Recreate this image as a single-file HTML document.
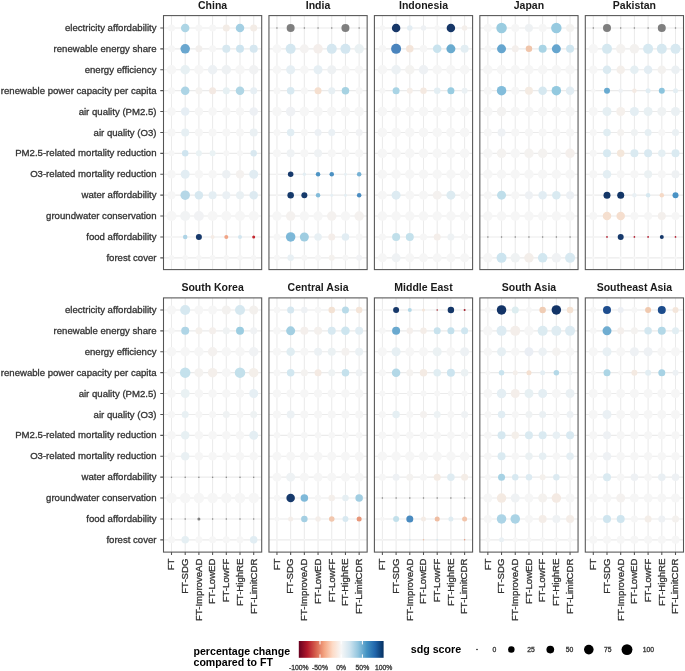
<!DOCTYPE html><html><head><meta charset="utf-8"><style>html,body{margin:0;padding:0;background:#fff;width:685px;height:671px;overflow:hidden}svg{display:block;will-change:transform}text{font-family:"Liberation Sans",sans-serif}.t{stroke:#333;stroke-width:0.3px}</style></head><body>
<svg width="685" height="671" viewBox="0 0 685 671">
<rect width="685" height="671" fill="#fff"/>
<g>
<path d="M171.5 15.6V269.6M185.2 15.6V269.6M198.9 15.6V269.6M212.6 15.6V269.6M226.3 15.6V269.6M240 15.6V269.6M253.7 15.6V269.6M163.5 27.95H261.7M163.5 48.85H261.7M163.5 69.75H261.7M163.5 90.65H261.7M163.5 111.55H261.7M163.5 132.45H261.7M163.5 153.35H261.7M163.5 174.25H261.7M163.5 195.15H261.7M163.5 216.05H261.7M163.5 236.95H261.7M163.5 257.85H261.7" stroke="#EBEBEB" stroke-width="1.07" fill="none"/>
<circle cx="171.5" cy="27.95" r="3.5" fill="#F6F6F6"/>
<circle cx="185.2" cy="27.95" r="4.25" fill="#ADD5E5"/>
<circle cx="198.9" cy="27.95" r="3.5" fill="#F6F6F6"/>
<circle cx="212.6" cy="27.95" r="3.5" fill="#F6F6F6"/>
<circle cx="226.3" cy="27.95" r="3.5" fill="#F3ECE6"/>
<circle cx="240" cy="27.95" r="4.25" fill="#A3CFE3"/>
<circle cx="253.7" cy="27.95" r="3.5" fill="#F3ECE6"/>
<circle cx="171.5" cy="48.85" r="3.5" fill="#F6F6F6"/>
<circle cx="185.2" cy="48.85" r="4.75" fill="#6AA7CF"/>
<circle cx="198.9" cy="48.85" r="3.5" fill="#F2EFED"/>
<circle cx="212.6" cy="48.85" r="3.5" fill="#F6F6F6"/>
<circle cx="226.3" cy="48.85" r="4" fill="#D7E8F0"/>
<circle cx="240" cy="48.85" r="4" fill="#CDE4EF"/>
<circle cx="253.7" cy="48.85" r="4" fill="#D6E7F0"/>
<circle cx="171.5" cy="69.75" r="4.75" fill="#F6F6F6"/>
<circle cx="185.2" cy="69.75" r="4.75" fill="#E7F0F3"/>
<circle cx="198.9" cy="69.75" r="4.75" fill="#F6F6F6"/>
<circle cx="212.6" cy="69.75" r="4.75" fill="#EDF1F4"/>
<circle cx="226.3" cy="69.75" r="4.75" fill="#EEF1F3"/>
<circle cx="240" cy="69.75" r="4.75" fill="#F6F6F6"/>
<circle cx="253.7" cy="69.75" r="4.75" fill="#F1F2F3"/>
<circle cx="171.5" cy="90.65" r="3.5" fill="#F6F6F6"/>
<circle cx="185.2" cy="90.65" r="4.25" fill="#ACD4E5"/>
<circle cx="198.9" cy="90.65" r="3.5" fill="#F4F2F0"/>
<circle cx="212.6" cy="90.65" r="3.5" fill="#F3E9E3"/>
<circle cx="226.3" cy="90.65" r="3.5" fill="#E6F0F3"/>
<circle cx="240" cy="90.65" r="4.25" fill="#B0D6E5"/>
<circle cx="253.7" cy="90.65" r="3.5" fill="#E7EFF4"/>
<circle cx="171.5" cy="111.55" r="4.25" fill="#F6F6F6"/>
<circle cx="185.2" cy="111.55" r="4.25" fill="#E6EEF4"/>
<circle cx="198.9" cy="111.55" r="4.25" fill="#F6F6F6"/>
<circle cx="212.6" cy="111.55" r="4.25" fill="#F6F6F6"/>
<circle cx="226.3" cy="111.55" r="4.25" fill="#F6F6F6"/>
<circle cx="240" cy="111.55" r="4.25" fill="#F6F6F6"/>
<circle cx="253.7" cy="111.55" r="4.25" fill="#EDF0F4"/>
<circle cx="171.5" cy="132.45" r="4" fill="#F6F6F6"/>
<circle cx="185.2" cy="132.45" r="4" fill="#E6EFF3"/>
<circle cx="198.9" cy="132.45" r="4" fill="#F6F6F6"/>
<circle cx="212.6" cy="132.45" r="4" fill="#F6F6F6"/>
<circle cx="226.3" cy="132.45" r="4" fill="#F6F6F6"/>
<circle cx="240" cy="132.45" r="4" fill="#F6F6F6"/>
<circle cx="253.7" cy="132.45" r="4" fill="#EAF0F3"/>
<circle cx="171.5" cy="153.35" r="3" fill="#F6F6F6"/>
<circle cx="185.2" cy="153.35" r="3.25" fill="#CFE4EF"/>
<circle cx="198.9" cy="153.35" r="3" fill="#EAF2F4"/>
<circle cx="212.6" cy="153.35" r="3" fill="#EAF2F4"/>
<circle cx="226.3" cy="153.35" r="3" fill="#F6F6F6"/>
<circle cx="240" cy="153.35" r="3" fill="#F6F6F6"/>
<circle cx="253.7" cy="153.35" r="3.25" fill="#D9E8F0"/>
<circle cx="171.5" cy="174.25" r="4.25" fill="#F6F6F6"/>
<circle cx="185.2" cy="174.25" r="4.5" fill="#E2EDF3"/>
<circle cx="198.9" cy="174.25" r="4.25" fill="#F6F6F6"/>
<circle cx="212.6" cy="174.25" r="4.25" fill="#F6F6F6"/>
<circle cx="226.3" cy="174.25" r="4.25" fill="#ECF0F3"/>
<circle cx="240" cy="174.25" r="4.25" fill="#F4F1EF"/>
<circle cx="253.7" cy="174.25" r="4.5" fill="#E1ECF2"/>
<circle cx="171.5" cy="195.15" r="4" fill="#F6F6F6"/>
<circle cx="185.2" cy="195.15" r="4.75" fill="#B5D7E7"/>
<circle cx="198.9" cy="195.15" r="4.25" fill="#D7E8F0"/>
<circle cx="212.6" cy="195.15" r="4" fill="#E4EEF3"/>
<circle cx="226.3" cy="195.15" r="4" fill="#EAF0F4"/>
<circle cx="240" cy="195.15" r="4" fill="#E9F0F3"/>
<circle cx="253.7" cy="195.15" r="4.25" fill="#DDEAF1"/>
<circle cx="171.5" cy="216.05" r="5" fill="#F6F6F6"/>
<circle cx="185.2" cy="216.05" r="5" fill="#F1F3F4"/>
<circle cx="198.9" cy="216.05" r="5" fill="#F1F2F4"/>
<circle cx="212.6" cy="216.05" r="5" fill="#F6F6F6"/>
<circle cx="226.3" cy="216.05" r="5" fill="#F6F6F6"/>
<circle cx="240" cy="216.05" r="5" fill="#F6F6F6"/>
<circle cx="253.7" cy="216.05" r="5" fill="#F6F6F6"/>
<circle cx="171.5" cy="236.95" r="1" fill="#F6F6F6"/>
<circle cx="185.2" cy="236.95" r="2.25" fill="#AED4E6"/>
<circle cx="198.9" cy="236.95" r="3" fill="#17396B"/>
<circle cx="212.6" cy="236.95" r="2" fill="#F5ECE6"/>
<circle cx="226.3" cy="236.95" r="2" fill="#F0A486"/>
<circle cx="240" cy="236.95" r="2" fill="#D3E6EF"/>
<circle cx="253.7" cy="236.95" r="1.5" fill="#C4262F"/>
<circle cx="171.5" cy="257.85" r="2.75" fill="#F6F6F6"/>
<circle cx="185.2" cy="257.85" r="2.75" fill="#F6F6F6"/>
<circle cx="198.9" cy="257.85" r="2.75" fill="#F6F6F6"/>
<circle cx="212.6" cy="257.85" r="2.75" fill="#F6F6F6"/>
<circle cx="226.3" cy="257.85" r="2.75" fill="#F6F6F6"/>
<circle cx="240" cy="257.85" r="2.75" fill="#F6F6F6"/>
<circle cx="253.7" cy="257.85" r="2.75" fill="#F6F6F6"/>
<rect x="163.5" y="15.6" width="98.2" height="254" fill="none" stroke="#555555" stroke-width="1.07"/>
<text x="212.6" y="8.7" font-size="10.5" font-weight="bold" fill="#1A1A1A" text-anchor="middle">China</text>
</g>
<g>
<path d="M276.95 15.6V269.6M290.65 15.6V269.6M304.35 15.6V269.6M318.05 15.6V269.6M331.75 15.6V269.6M345.45 15.6V269.6M359.15 15.6V269.6M268.95 27.95H367.15M268.95 48.85H367.15M268.95 69.75H367.15M268.95 90.65H367.15M268.95 111.55H367.15M268.95 132.45H367.15M268.95 153.35H367.15M268.95 174.25H367.15M268.95 195.15H367.15M268.95 216.05H367.15M268.95 236.95H367.15M268.95 257.85H367.15" stroke="#EBEBEB" stroke-width="1.07" fill="none"/>
<circle cx="276.95" cy="27.95" r="0.75" fill="#7F7F7F"/>
<circle cx="290.65" cy="27.95" r="4" fill="#7F7F7F"/>
<circle cx="304.35" cy="27.95" r="0.75" fill="#7F7F7F"/>
<circle cx="318.05" cy="27.95" r="0.75" fill="#7F7F7F"/>
<circle cx="331.75" cy="27.95" r="0.75" fill="#7F7F7F"/>
<circle cx="345.45" cy="27.95" r="4" fill="#7F7F7F"/>
<circle cx="359.15" cy="27.95" r="0.75" fill="#7F7F7F"/>
<circle cx="276.95" cy="48.85" r="4.5" fill="#F6F6F6"/>
<circle cx="290.65" cy="48.85" r="5" fill="#D4E7F0"/>
<circle cx="304.35" cy="48.85" r="4.5" fill="#F4F2F1"/>
<circle cx="318.05" cy="48.85" r="4.75" fill="#F4EEEB"/>
<circle cx="331.75" cy="48.85" r="5" fill="#D5E7F0"/>
<circle cx="345.45" cy="48.85" r="5" fill="#D3E6F0"/>
<circle cx="359.15" cy="48.85" r="4.75" fill="#EAF1F3"/>
<circle cx="276.95" cy="69.75" r="4.25" fill="#F6F6F6"/>
<circle cx="290.65" cy="69.75" r="4.5" fill="#E6EFF4"/>
<circle cx="304.35" cy="69.75" r="4.25" fill="#F6F6F6"/>
<circle cx="318.05" cy="69.75" r="4.5" fill="#E6EFF4"/>
<circle cx="331.75" cy="69.75" r="4.5" fill="#EEF1F3"/>
<circle cx="345.45" cy="69.75" r="4.25" fill="#F6F6F6"/>
<circle cx="359.15" cy="69.75" r="4.25" fill="#F6F6F6"/>
<circle cx="276.95" cy="90.65" r="3.5" fill="#F6F6F6"/>
<circle cx="290.65" cy="90.65" r="3.75" fill="#D8E9F1"/>
<circle cx="304.35" cy="90.65" r="3.5" fill="#F6F6F6"/>
<circle cx="318.05" cy="90.65" r="3.5" fill="#F5DFCF"/>
<circle cx="331.75" cy="90.65" r="3.5" fill="#E7EFF3"/>
<circle cx="345.45" cy="90.65" r="3.75" fill="#A6D2E2"/>
<circle cx="359.15" cy="90.65" r="3.5" fill="#F6F6F6"/>
<circle cx="276.95" cy="111.55" r="4.75" fill="#F6F6F6"/>
<circle cx="290.65" cy="111.55" r="4.75" fill="#EFF1F4"/>
<circle cx="304.35" cy="111.55" r="4.75" fill="#F6F6F6"/>
<circle cx="318.05" cy="111.55" r="4.75" fill="#F6F6F6"/>
<circle cx="331.75" cy="111.55" r="4.75" fill="#F6F6F6"/>
<circle cx="345.45" cy="111.55" r="4.75" fill="#F6F6F6"/>
<circle cx="359.15" cy="111.55" r="4.75" fill="#F6F6F6"/>
<circle cx="276.95" cy="132.45" r="3.5" fill="#F6F6F6"/>
<circle cx="290.65" cy="132.45" r="3.75" fill="#E1EDF3"/>
<circle cx="304.35" cy="132.45" r="3.5" fill="#F6F6F6"/>
<circle cx="318.05" cy="132.45" r="3.5" fill="#ECF0F4"/>
<circle cx="331.75" cy="132.45" r="3.5" fill="#EAF0F4"/>
<circle cx="345.45" cy="132.45" r="3.5" fill="#F6F6F6"/>
<circle cx="359.15" cy="132.45" r="3.5" fill="#F1F2F4"/>
<circle cx="276.95" cy="153.35" r="4" fill="#F6F6F6"/>
<circle cx="290.65" cy="153.35" r="4" fill="#EFF2F4"/>
<circle cx="304.35" cy="153.35" r="4" fill="#F6F6F6"/>
<circle cx="318.05" cy="153.35" r="4" fill="#EFF2F4"/>
<circle cx="331.75" cy="153.35" r="4" fill="#F6F6F6"/>
<circle cx="345.45" cy="153.35" r="4" fill="#F6F6F6"/>
<circle cx="359.15" cy="153.35" r="4" fill="#F6F6F6"/>
<circle cx="276.95" cy="174.25" r="1" fill="#F6F6F6"/>
<circle cx="290.65" cy="174.25" r="2.75" fill="#173A6C"/>
<circle cx="304.35" cy="174.25" r="1.75" fill="#E3EEF3"/>
<circle cx="318.05" cy="174.25" r="2.25" fill="#4E94C4"/>
<circle cx="331.75" cy="174.25" r="2.25" fill="#4B90C2"/>
<circle cx="345.45" cy="174.25" r="1.5" fill="#E7F0F4"/>
<circle cx="359.15" cy="174.25" r="2.25" fill="#76B1D4"/>
<circle cx="276.95" cy="195.15" r="1" fill="#F6F6F6"/>
<circle cx="290.65" cy="195.15" r="3.25" fill="#163A6B"/>
<circle cx="304.35" cy="195.15" r="3" fill="#163A6B"/>
<circle cx="318.05" cy="195.15" r="2.25" fill="#83BCDA"/>
<circle cx="331.75" cy="195.15" r="1.5" fill="#E5EFF4"/>
<circle cx="345.45" cy="195.15" r="1.5" fill="#E4EEF3"/>
<circle cx="359.15" cy="195.15" r="2.25" fill="#4A8CC1"/>
<circle cx="276.95" cy="216.05" r="4.75" fill="#F6F6F6"/>
<circle cx="290.65" cy="216.05" r="4.75" fill="#F4F1EF"/>
<circle cx="304.35" cy="216.05" r="4.75" fill="#F6F6F6"/>
<circle cx="318.05" cy="216.05" r="4.75" fill="#F6F6F6"/>
<circle cx="331.75" cy="216.05" r="4.75" fill="#F4F1EF"/>
<circle cx="345.45" cy="216.05" r="4.75" fill="#F6F6F6"/>
<circle cx="359.15" cy="216.05" r="4.75" fill="#F4F1EF"/>
<circle cx="276.95" cy="236.95" r="3.5" fill="#F6F6F6"/>
<circle cx="290.65" cy="236.95" r="4.75" fill="#7DB8D8"/>
<circle cx="304.35" cy="236.95" r="4.5" fill="#9FCDE1"/>
<circle cx="318.05" cy="236.95" r="3.75" fill="#E8F0F4"/>
<circle cx="331.75" cy="236.95" r="3.5" fill="#F4EDE9"/>
<circle cx="345.45" cy="236.95" r="3.75" fill="#E2EDF3"/>
<circle cx="359.15" cy="236.95" r="3.5" fill="#F6F6F6"/>
<circle cx="276.95" cy="257.85" r="3" fill="#F6F6F6"/>
<circle cx="290.65" cy="257.85" r="3.25" fill="#E8F0F4"/>
<circle cx="304.35" cy="257.85" r="3" fill="#F6F6F6"/>
<circle cx="318.05" cy="257.85" r="3" fill="#F6F6F6"/>
<circle cx="331.75" cy="257.85" r="3" fill="#F4F1EE"/>
<circle cx="345.45" cy="257.85" r="3" fill="#F6F6F6"/>
<circle cx="359.15" cy="257.85" r="3" fill="#F1F2F4"/>
<rect x="268.95" y="15.6" width="98.2" height="254" fill="none" stroke="#555555" stroke-width="1.07"/>
<text x="318.05" y="8.7" font-size="10.5" font-weight="bold" fill="#1A1A1A" text-anchor="middle">India</text>
</g>
<g>
<path d="M382.4 15.6V269.6M396.1 15.6V269.6M409.8 15.6V269.6M423.5 15.6V269.6M437.2 15.6V269.6M450.9 15.6V269.6M464.6 15.6V269.6M374.4 27.95H472.6M374.4 48.85H472.6M374.4 69.75H472.6M374.4 90.65H472.6M374.4 111.55H472.6M374.4 132.45H472.6M374.4 153.35H472.6M374.4 174.25H472.6M374.4 195.15H472.6M374.4 216.05H472.6M374.4 236.95H472.6M374.4 257.85H472.6" stroke="#EBEBEB" stroke-width="1.07" fill="none"/>
<circle cx="382.4" cy="27.95" r="2.75" fill="#F6F6F6"/>
<circle cx="396.1" cy="27.95" r="4.25" fill="#173768"/>
<circle cx="409.8" cy="27.95" r="2.75" fill="#E3EDF3"/>
<circle cx="423.5" cy="27.95" r="2.75" fill="#EEF1F4"/>
<circle cx="437.2" cy="27.95" r="2.75" fill="#F6F6F6"/>
<circle cx="450.9" cy="27.95" r="4.25" fill="#163768"/>
<circle cx="464.6" cy="27.95" r="2.75" fill="#F4EFEB"/>
<circle cx="382.4" cy="48.85" r="3.75" fill="#F6F6F6"/>
<circle cx="396.1" cy="48.85" r="5" fill="#4A84BD"/>
<circle cx="409.8" cy="48.85" r="3.75" fill="#F4E5DA"/>
<circle cx="423.5" cy="48.85" r="3.75" fill="#F6F6F6"/>
<circle cx="437.2" cy="48.85" r="4.25" fill="#C9E3EE"/>
<circle cx="450.9" cy="48.85" r="4.5" fill="#6AABCF"/>
<circle cx="464.6" cy="48.85" r="4" fill="#E3EEF3"/>
<circle cx="382.4" cy="69.75" r="4.75" fill="#F6F6F6"/>
<circle cx="396.1" cy="69.75" r="4.75" fill="#ECF1F4"/>
<circle cx="409.8" cy="69.75" r="4.75" fill="#F4F3F1"/>
<circle cx="423.5" cy="69.75" r="4.75" fill="#EEF1F4"/>
<circle cx="437.2" cy="69.75" r="4.75" fill="#F6F6F6"/>
<circle cx="450.9" cy="69.75" r="4.75" fill="#F6F6F6"/>
<circle cx="464.6" cy="69.75" r="4.75" fill="#F6F6F6"/>
<circle cx="382.4" cy="90.65" r="3" fill="#F6F6F6"/>
<circle cx="396.1" cy="90.65" r="3.5" fill="#A9D4E5"/>
<circle cx="409.8" cy="90.65" r="3" fill="#F5EEE9"/>
<circle cx="423.5" cy="90.65" r="3.25" fill="#F4E9E1"/>
<circle cx="437.2" cy="90.65" r="3.25" fill="#E3EEF3"/>
<circle cx="450.9" cy="90.65" r="3.5" fill="#98CCE1"/>
<circle cx="464.6" cy="90.65" r="3" fill="#EBF1F4"/>
<circle cx="382.4" cy="111.55" r="4.75" fill="#F6F6F6"/>
<circle cx="396.1" cy="111.55" r="4.75" fill="#F6F6F6"/>
<circle cx="409.8" cy="111.55" r="4.75" fill="#F6F6F6"/>
<circle cx="423.5" cy="111.55" r="4.75" fill="#F6F6F6"/>
<circle cx="437.2" cy="111.55" r="4.75" fill="#F6F6F6"/>
<circle cx="450.9" cy="111.55" r="4.75" fill="#F6F6F6"/>
<circle cx="464.6" cy="111.55" r="4.75" fill="#F6F6F6"/>
<circle cx="382.4" cy="132.45" r="4.75" fill="#F6F6F6"/>
<circle cx="396.1" cy="132.45" r="4.75" fill="#F6F6F6"/>
<circle cx="409.8" cy="132.45" r="4.75" fill="#F6F6F6"/>
<circle cx="423.5" cy="132.45" r="4.75" fill="#F6F6F6"/>
<circle cx="437.2" cy="132.45" r="4.75" fill="#F6F6F6"/>
<circle cx="450.9" cy="132.45" r="4.75" fill="#F6F6F6"/>
<circle cx="464.6" cy="132.45" r="4.75" fill="#F6F6F6"/>
<circle cx="382.4" cy="153.35" r="4.75" fill="#F6F6F6"/>
<circle cx="396.1" cy="153.35" r="4.75" fill="#F6F6F6"/>
<circle cx="409.8" cy="153.35" r="4.75" fill="#F6F6F6"/>
<circle cx="423.5" cy="153.35" r="4.75" fill="#F6F6F6"/>
<circle cx="437.2" cy="153.35" r="4.75" fill="#F6F6F6"/>
<circle cx="450.9" cy="153.35" r="4.75" fill="#F6F6F6"/>
<circle cx="464.6" cy="153.35" r="4.75" fill="#F6F6F6"/>
<circle cx="382.4" cy="174.25" r="4.75" fill="#F6F6F6"/>
<circle cx="396.1" cy="174.25" r="4.75" fill="#F6F6F6"/>
<circle cx="409.8" cy="174.25" r="4.75" fill="#F6F6F6"/>
<circle cx="423.5" cy="174.25" r="4.75" fill="#F6F6F6"/>
<circle cx="437.2" cy="174.25" r="4.75" fill="#F6F6F6"/>
<circle cx="450.9" cy="174.25" r="4.75" fill="#F6F6F6"/>
<circle cx="464.6" cy="174.25" r="4.75" fill="#F6F6F6"/>
<circle cx="382.4" cy="195.15" r="4.5" fill="#F6F6F6"/>
<circle cx="396.1" cy="195.15" r="4.5" fill="#DDEBF2"/>
<circle cx="409.8" cy="195.15" r="4.5" fill="#F6F6F6"/>
<circle cx="423.5" cy="195.15" r="4.5" fill="#F6F6F6"/>
<circle cx="437.2" cy="195.15" r="4.5" fill="#F4F1EF"/>
<circle cx="450.9" cy="195.15" r="4.5" fill="#DDEBF1"/>
<circle cx="464.6" cy="195.15" r="4.5" fill="#F6F6F6"/>
<circle cx="382.4" cy="216.05" r="4.75" fill="#F6F6F6"/>
<circle cx="396.1" cy="216.05" r="4.75" fill="#F6F6F6"/>
<circle cx="409.8" cy="216.05" r="4.75" fill="#F6F6F6"/>
<circle cx="423.5" cy="216.05" r="4.75" fill="#F6F6F6"/>
<circle cx="437.2" cy="216.05" r="4.75" fill="#F6F6F6"/>
<circle cx="450.9" cy="216.05" r="4.75" fill="#F6F6F6"/>
<circle cx="464.6" cy="216.05" r="4.75" fill="#F6F6F6"/>
<circle cx="382.4" cy="236.95" r="3.5" fill="#F6F6F6"/>
<circle cx="396.1" cy="236.95" r="4" fill="#C0DFEA"/>
<circle cx="409.8" cy="236.95" r="4" fill="#C4E1EC"/>
<circle cx="423.5" cy="236.95" r="3.5" fill="#F6F6F6"/>
<circle cx="437.2" cy="236.95" r="3.5" fill="#F4EEEA"/>
<circle cx="450.9" cy="236.95" r="3.5" fill="#EEF2F4"/>
<circle cx="464.6" cy="236.95" r="3.5" fill="#F6F6F6"/>
<circle cx="382.4" cy="257.85" r="4.5" fill="#F6F6F6"/>
<circle cx="396.1" cy="257.85" r="4.5" fill="#EFF2F4"/>
<circle cx="409.8" cy="257.85" r="4.5" fill="#F6F6F6"/>
<circle cx="423.5" cy="257.85" r="4.5" fill="#F6F6F6"/>
<circle cx="437.2" cy="257.85" r="4.5" fill="#F6F6F6"/>
<circle cx="450.9" cy="257.85" r="4.5" fill="#F6F6F6"/>
<circle cx="464.6" cy="257.85" r="4.5" fill="#F6F6F6"/>
<rect x="374.4" y="15.6" width="98.2" height="254" fill="none" stroke="#555555" stroke-width="1.07"/>
<text x="423.5" y="8.7" font-size="10.5" font-weight="bold" fill="#1A1A1A" text-anchor="middle">Indonesia</text>
</g>
<g>
<path d="M487.85 15.6V269.6M501.55 15.6V269.6M515.25 15.6V269.6M528.95 15.6V269.6M542.65 15.6V269.6M556.35 15.6V269.6M570.05 15.6V269.6M479.85 27.95H578.05M479.85 48.85H578.05M479.85 69.75H578.05M479.85 90.65H578.05M479.85 111.55H578.05M479.85 132.45H578.05M479.85 153.35H578.05M479.85 174.25H578.05M479.85 195.15H578.05M479.85 216.05H578.05M479.85 236.95H578.05M479.85 257.85H578.05" stroke="#EBEBEB" stroke-width="1.07" fill="none"/>
<circle cx="487.85" cy="27.95" r="4" fill="#F6F6F6"/>
<circle cx="501.55" cy="27.95" r="5.25" fill="#9ACCE0"/>
<circle cx="515.25" cy="27.95" r="4" fill="#F6F6F6"/>
<circle cx="528.95" cy="27.95" r="4" fill="#EEF1F3"/>
<circle cx="542.65" cy="27.95" r="4" fill="#F6F6F6"/>
<circle cx="556.35" cy="27.95" r="5.25" fill="#97CAE0"/>
<circle cx="570.05" cy="27.95" r="4" fill="#F3F2F0"/>
<circle cx="487.85" cy="48.85" r="3.5" fill="#F6F6F6"/>
<circle cx="501.55" cy="48.85" r="4.5" fill="#66A6CF"/>
<circle cx="515.25" cy="48.85" r="3.5" fill="#F4EFEC"/>
<circle cx="528.95" cy="48.85" r="3.25" fill="#F0C5AB"/>
<circle cx="542.65" cy="48.85" r="4" fill="#A9D4E5"/>
<circle cx="556.35" cy="48.85" r="4.5" fill="#65A5CE"/>
<circle cx="570.05" cy="48.85" r="4" fill="#D0E6F0"/>
<circle cx="487.85" cy="69.75" r="4.75" fill="#F6F6F6"/>
<circle cx="501.55" cy="69.75" r="4.75" fill="#F6F6F6"/>
<circle cx="515.25" cy="69.75" r="4.75" fill="#F6F6F6"/>
<circle cx="528.95" cy="69.75" r="4.75" fill="#F6F6F6"/>
<circle cx="542.65" cy="69.75" r="4.75" fill="#F6F6F6"/>
<circle cx="556.35" cy="69.75" r="4.75" fill="#F6F6F6"/>
<circle cx="570.05" cy="69.75" r="4.75" fill="#F6F6F6"/>
<circle cx="487.85" cy="90.65" r="4" fill="#F6F6F6"/>
<circle cx="501.55" cy="90.65" r="4.75" fill="#83BDDB"/>
<circle cx="515.25" cy="90.65" r="4" fill="#F6F6F6"/>
<circle cx="528.95" cy="90.65" r="4" fill="#F4EBE3"/>
<circle cx="542.65" cy="90.65" r="4.25" fill="#D6E8F0"/>
<circle cx="556.35" cy="90.65" r="4.75" fill="#93C9DF"/>
<circle cx="570.05" cy="90.65" r="4.25" fill="#E2EDF3"/>
<circle cx="487.85" cy="111.55" r="4.75" fill="#F6F6F6"/>
<circle cx="501.55" cy="111.55" r="4.75" fill="#F3F2F1"/>
<circle cx="515.25" cy="111.55" r="4.75" fill="#F6F6F6"/>
<circle cx="528.95" cy="111.55" r="4.75" fill="#F6F6F6"/>
<circle cx="542.65" cy="111.55" r="4.75" fill="#F6F6F6"/>
<circle cx="556.35" cy="111.55" r="4.75" fill="#F6F6F6"/>
<circle cx="570.05" cy="111.55" r="4.75" fill="#F6F6F6"/>
<circle cx="487.85" cy="132.45" r="4" fill="#F6F6F6"/>
<circle cx="501.55" cy="132.45" r="4" fill="#EEF1F4"/>
<circle cx="515.25" cy="132.45" r="4" fill="#F6F6F6"/>
<circle cx="528.95" cy="132.45" r="4" fill="#F6F6F6"/>
<circle cx="542.65" cy="132.45" r="4" fill="#F6F6F6"/>
<circle cx="556.35" cy="132.45" r="4" fill="#F6F6F6"/>
<circle cx="570.05" cy="132.45" r="4" fill="#F6F6F6"/>
<circle cx="487.85" cy="153.35" r="4.75" fill="#F6F6F6"/>
<circle cx="501.55" cy="153.35" r="4.75" fill="#F4F2F0"/>
<circle cx="515.25" cy="153.35" r="4.75" fill="#F6F6F6"/>
<circle cx="528.95" cy="153.35" r="4.75" fill="#F4F2F0"/>
<circle cx="542.65" cy="153.35" r="4.75" fill="#F4F2F0"/>
<circle cx="556.35" cy="153.35" r="4.75" fill="#F6F6F6"/>
<circle cx="570.05" cy="153.35" r="4.75" fill="#F4EFEC"/>
<circle cx="487.85" cy="174.25" r="4.75" fill="#F6F6F6"/>
<circle cx="501.55" cy="174.25" r="4.75" fill="#F6F6F6"/>
<circle cx="515.25" cy="174.25" r="4.75" fill="#F6F6F6"/>
<circle cx="528.95" cy="174.25" r="4.75" fill="#F6F6F6"/>
<circle cx="542.65" cy="174.25" r="4.75" fill="#F6F6F6"/>
<circle cx="556.35" cy="174.25" r="4.75" fill="#F6F6F6"/>
<circle cx="570.05" cy="174.25" r="4.75" fill="#F6F6F6"/>
<circle cx="487.85" cy="195.15" r="4" fill="#F6F6F6"/>
<circle cx="501.55" cy="195.15" r="4.5" fill="#BFDEEA"/>
<circle cx="515.25" cy="195.15" r="4" fill="#F6F6F6"/>
<circle cx="528.95" cy="195.15" r="4" fill="#EEF1F4"/>
<circle cx="542.65" cy="195.15" r="4.25" fill="#E2EDF3"/>
<circle cx="556.35" cy="195.15" r="4.25" fill="#D9EAF1"/>
<circle cx="570.05" cy="195.15" r="4" fill="#ECF0F4"/>
<circle cx="487.85" cy="216.05" r="4.75" fill="#F6F6F6"/>
<circle cx="501.55" cy="216.05" r="4.75" fill="#F6F6F6"/>
<circle cx="515.25" cy="216.05" r="4.75" fill="#F6F6F6"/>
<circle cx="528.95" cy="216.05" r="4.75" fill="#F6F6F6"/>
<circle cx="542.65" cy="216.05" r="4.75" fill="#F6F6F6"/>
<circle cx="556.35" cy="216.05" r="4.75" fill="#F6F6F6"/>
<circle cx="570.05" cy="216.05" r="4.75" fill="#F6F6F6"/>
<circle cx="487.85" cy="236.95" r="0.75" fill="#7F7F7F"/>
<circle cx="501.55" cy="236.95" r="0.75" fill="#7F7F7F"/>
<circle cx="515.25" cy="236.95" r="0.75" fill="#7F7F7F"/>
<circle cx="528.95" cy="236.95" r="0.75" fill="#7F7F7F"/>
<circle cx="542.65" cy="236.95" r="0.75" fill="#7F7F7F"/>
<circle cx="556.35" cy="236.95" r="0.75" fill="#7F7F7F"/>
<circle cx="570.05" cy="236.95" r="0.75" fill="#7F7F7F"/>
<circle cx="487.85" cy="257.85" r="4.75" fill="#F6F6F6"/>
<circle cx="501.55" cy="257.85" r="5" fill="#CCE4EF"/>
<circle cx="515.25" cy="257.85" r="4.75" fill="#EFF2F3"/>
<circle cx="528.95" cy="257.85" r="4.75" fill="#F3EEEA"/>
<circle cx="542.65" cy="257.85" r="4.75" fill="#D2E7F0"/>
<circle cx="556.35" cy="257.85" r="4.75" fill="#F0F2F4"/>
<circle cx="570.05" cy="257.85" r="5" fill="#D8E9F1"/>
<rect x="479.85" y="15.6" width="98.2" height="254" fill="none" stroke="#555555" stroke-width="1.07"/>
<text x="528.95" y="8.7" font-size="10.5" font-weight="bold" fill="#1A1A1A" text-anchor="middle">Japan</text>
</g>
<g>
<path d="M593.3 15.6V269.6M607 15.6V269.6M620.7 15.6V269.6M634.4 15.6V269.6M648.1 15.6V269.6M661.8 15.6V269.6M675.5 15.6V269.6M585.3 27.95H683.5M585.3 48.85H683.5M585.3 69.75H683.5M585.3 90.65H683.5M585.3 111.55H683.5M585.3 132.45H683.5M585.3 153.35H683.5M585.3 174.25H683.5M585.3 195.15H683.5M585.3 216.05H683.5M585.3 236.95H683.5M585.3 257.85H683.5" stroke="#EBEBEB" stroke-width="1.07" fill="none"/>
<circle cx="593.3" cy="27.95" r="0.75" fill="#7F7F7F"/>
<circle cx="607" cy="27.95" r="4" fill="#7F7F7F"/>
<circle cx="620.7" cy="27.95" r="0.75" fill="#7F7F7F"/>
<circle cx="634.4" cy="27.95" r="0.75" fill="#7F7F7F"/>
<circle cx="648.1" cy="27.95" r="0.75" fill="#7F7F7F"/>
<circle cx="661.8" cy="27.95" r="4" fill="#7F7F7F"/>
<circle cx="675.5" cy="27.95" r="0.75" fill="#7F7F7F"/>
<circle cx="593.3" cy="48.85" r="4.75" fill="#F6F6F6"/>
<circle cx="607" cy="48.85" r="5" fill="#D5E8F0"/>
<circle cx="620.7" cy="48.85" r="4.75" fill="#F4F2F0"/>
<circle cx="634.4" cy="48.85" r="4.75" fill="#F3F1EF"/>
<circle cx="648.1" cy="48.85" r="5" fill="#D7E9F1"/>
<circle cx="661.8" cy="48.85" r="5" fill="#D6E8F0"/>
<circle cx="675.5" cy="48.85" r="5" fill="#D8E9F1"/>
<circle cx="593.3" cy="69.75" r="4.25" fill="#F6F6F6"/>
<circle cx="607" cy="69.75" r="4.25" fill="#DBEAF1"/>
<circle cx="620.7" cy="69.75" r="4.25" fill="#F4EFEB"/>
<circle cx="634.4" cy="69.75" r="4.25" fill="#E5EFF3"/>
<circle cx="648.1" cy="69.75" r="4.25" fill="#E3EDF3"/>
<circle cx="661.8" cy="69.75" r="4.25" fill="#F3F1EF"/>
<circle cx="675.5" cy="69.75" r="4.25" fill="#EBF0F3"/>
<circle cx="593.3" cy="90.65" r="2.25" fill="#F6F6F6"/>
<circle cx="607" cy="90.65" r="3" fill="#68AAD0"/>
<circle cx="620.7" cy="90.65" r="2.25" fill="#EEF1F4"/>
<circle cx="634.4" cy="90.65" r="2.25" fill="#F4EAE3"/>
<circle cx="648.1" cy="90.65" r="2.5" fill="#E1EDF3"/>
<circle cx="661.8" cy="90.65" r="3" fill="#8CC4DD"/>
<circle cx="675.5" cy="90.65" r="2.5" fill="#E4EEF3"/>
<circle cx="593.3" cy="111.55" r="4.5" fill="#F6F6F6"/>
<circle cx="607" cy="111.55" r="4.5" fill="#E5EFF3"/>
<circle cx="620.7" cy="111.55" r="4.5" fill="#F5F0EC"/>
<circle cx="634.4" cy="111.55" r="4.5" fill="#E4EEF3"/>
<circle cx="648.1" cy="111.55" r="4.5" fill="#E8F0F3"/>
<circle cx="661.8" cy="111.55" r="4.5" fill="#EFF2F3"/>
<circle cx="675.5" cy="111.55" r="4.5" fill="#EAF0F3"/>
<circle cx="593.3" cy="132.45" r="3.5" fill="#F6F6F6"/>
<circle cx="607" cy="132.45" r="3.75" fill="#E0EDF2"/>
<circle cx="620.7" cy="132.45" r="3.5" fill="#F4F2F0"/>
<circle cx="634.4" cy="132.45" r="3.5" fill="#EFF2F3"/>
<circle cx="648.1" cy="132.45" r="3.5" fill="#E6EFF3"/>
<circle cx="661.8" cy="132.45" r="3.5" fill="#F6F6F6"/>
<circle cx="675.5" cy="132.45" r="3.5" fill="#EAF0F3"/>
<circle cx="593.3" cy="153.35" r="3.5" fill="#F6F6F6"/>
<circle cx="607" cy="153.35" r="4" fill="#D7E9F1"/>
<circle cx="620.7" cy="153.35" r="3.75" fill="#F4E7DB"/>
<circle cx="634.4" cy="153.35" r="4" fill="#DAEAF1"/>
<circle cx="648.1" cy="153.35" r="4" fill="#D9E9F1"/>
<circle cx="661.8" cy="153.35" r="3.75" fill="#E5EFF3"/>
<circle cx="675.5" cy="153.35" r="4" fill="#DAEAF1"/>
<circle cx="593.3" cy="174.25" r="4" fill="#F6F6F6"/>
<circle cx="607" cy="174.25" r="4.25" fill="#E3EEF3"/>
<circle cx="620.7" cy="174.25" r="4" fill="#F6F6F6"/>
<circle cx="634.4" cy="174.25" r="4" fill="#F6F6F6"/>
<circle cx="648.1" cy="174.25" r="4" fill="#EBF1F3"/>
<circle cx="661.8" cy="174.25" r="4" fill="#F6F6F6"/>
<circle cx="675.5" cy="174.25" r="4" fill="#EEF1F3"/>
<circle cx="593.3" cy="195.15" r="1.25" fill="#F6F6F6"/>
<circle cx="607" cy="195.15" r="3.5" fill="#143768"/>
<circle cx="620.7" cy="195.15" r="3.5" fill="#133667"/>
<circle cx="634.4" cy="195.15" r="2.25" fill="#E9F0F4"/>
<circle cx="648.1" cy="195.15" r="2.25" fill="#D6E8F0"/>
<circle cx="661.8" cy="195.15" r="2.25" fill="#F5D9C6"/>
<circle cx="675.5" cy="195.15" r="3" fill="#4A93C5"/>
<circle cx="593.3" cy="216.05" r="4" fill="#F6F6F6"/>
<circle cx="607" cy="216.05" r="4.25" fill="#F5DFCF"/>
<circle cx="620.7" cy="216.05" r="4.25" fill="#F5DECE"/>
<circle cx="634.4" cy="216.05" r="4" fill="#F6F6F6"/>
<circle cx="648.1" cy="216.05" r="4" fill="#F6F6F6"/>
<circle cx="661.8" cy="216.05" r="4" fill="#F3EFEC"/>
<circle cx="675.5" cy="216.05" r="4" fill="#F6F6F6"/>
<circle cx="593.3" cy="236.95" r="0.75" fill="#F6F6F6"/>
<circle cx="607" cy="236.95" r="0.85" fill="#B2182B"/>
<circle cx="620.7" cy="236.95" r="3" fill="#173A6C"/>
<circle cx="634.4" cy="236.95" r="0.85" fill="#B2182B"/>
<circle cx="648.1" cy="236.95" r="0.85" fill="#B2182B"/>
<circle cx="661.8" cy="236.95" r="2" fill="#15386A"/>
<circle cx="675.5" cy="236.95" r="0.85" fill="#B2182B"/>
<circle cx="593.3" cy="257.85" r="1.5" fill="#F6F6F6"/>
<circle cx="607" cy="257.85" r="1.5" fill="#F6F6F6"/>
<circle cx="620.7" cy="257.85" r="1.5" fill="#F6F6F6"/>
<circle cx="634.4" cy="257.85" r="1.5" fill="#F6F6F6"/>
<circle cx="648.1" cy="257.85" r="1.5" fill="#F6F6F6"/>
<circle cx="661.8" cy="257.85" r="1.5" fill="#F6F6F6"/>
<circle cx="675.5" cy="257.85" r="1.5" fill="#F6F6F6"/>
<rect x="585.3" y="15.6" width="98.2" height="254" fill="none" stroke="#555555" stroke-width="1.07"/>
<text x="634.4" y="8.7" font-size="10.5" font-weight="bold" fill="#1A1A1A" text-anchor="middle">Pakistan</text>
</g>
<g>
<path d="M171.5 297.9V552.1M185.2 297.9V552.1M198.9 297.9V552.1M212.6 297.9V552.1M226.3 297.9V552.1M240 297.9V552.1M253.7 297.9V552.1M163.5 309.95H261.7M163.5 330.85H261.7M163.5 351.75H261.7M163.5 372.65H261.7M163.5 393.55H261.7M163.5 414.45H261.7M163.5 435.35H261.7M163.5 456.25H261.7M163.5 477.15H261.7M163.5 498.05H261.7M163.5 518.95H261.7M163.5 539.85H261.7" stroke="#EBEBEB" stroke-width="1.07" fill="none"/>
<circle cx="171.5" cy="309.95" r="4.5" fill="#F6F6F6"/>
<circle cx="185.2" cy="309.95" r="5" fill="#D6E8F0"/>
<circle cx="198.9" cy="309.95" r="4.5" fill="#F6F6F6"/>
<circle cx="212.6" cy="309.95" r="4.5" fill="#F6F6F6"/>
<circle cx="226.3" cy="309.95" r="4.5" fill="#F3F1EF"/>
<circle cx="240" cy="309.95" r="5" fill="#D6E8F0"/>
<circle cx="253.7" cy="309.95" r="4.5" fill="#F3F0ED"/>
<circle cx="171.5" cy="330.85" r="3.25" fill="#F6F6F6"/>
<circle cx="185.2" cy="330.85" r="4" fill="#AFD5E6"/>
<circle cx="198.9" cy="330.85" r="3.5" fill="#F4F0EC"/>
<circle cx="212.6" cy="330.85" r="3.5" fill="#F4EFEC"/>
<circle cx="226.3" cy="330.85" r="3.5" fill="#EFF2F3"/>
<circle cx="240" cy="330.85" r="4" fill="#9CCDE1"/>
<circle cx="253.7" cy="330.85" r="3.5" fill="#F0F2F4"/>
<circle cx="171.5" cy="351.75" r="4.75" fill="#F6F6F6"/>
<circle cx="185.2" cy="351.75" r="4.75" fill="#F6F6F6"/>
<circle cx="198.9" cy="351.75" r="4.75" fill="#F6F6F6"/>
<circle cx="212.6" cy="351.75" r="4.75" fill="#F4F1EF"/>
<circle cx="226.3" cy="351.75" r="4.75" fill="#F6F6F6"/>
<circle cx="240" cy="351.75" r="4.75" fill="#F6F6F6"/>
<circle cx="253.7" cy="351.75" r="4.75" fill="#F0F2F4"/>
<circle cx="171.5" cy="372.65" r="4.5" fill="#F6F6F6"/>
<circle cx="185.2" cy="372.65" r="5.25" fill="#C4E1EC"/>
<circle cx="198.9" cy="372.65" r="4.5" fill="#F4F2F0"/>
<circle cx="212.6" cy="372.65" r="4.75" fill="#F4EFEB"/>
<circle cx="226.3" cy="372.65" r="4.5" fill="#F6F6F6"/>
<circle cx="240" cy="372.65" r="5.25" fill="#C3E0EB"/>
<circle cx="253.7" cy="372.65" r="4.75" fill="#F4EFEA"/>
<circle cx="171.5" cy="393.55" r="4.25" fill="#F6F6F6"/>
<circle cx="185.2" cy="393.55" r="4.5" fill="#E9F1F3"/>
<circle cx="198.9" cy="393.55" r="4.25" fill="#F6F6F6"/>
<circle cx="212.6" cy="393.55" r="4.25" fill="#F6F6F6"/>
<circle cx="226.3" cy="393.55" r="4.25" fill="#F6F6F6"/>
<circle cx="240" cy="393.55" r="4.25" fill="#F6F6F6"/>
<circle cx="253.7" cy="393.55" r="4.5" fill="#E6EFF4"/>
<circle cx="171.5" cy="414.45" r="3.5" fill="#F6F6F6"/>
<circle cx="185.2" cy="414.45" r="3.5" fill="#E8F0F3"/>
<circle cx="198.9" cy="414.45" r="3.5" fill="#F6F6F6"/>
<circle cx="212.6" cy="414.45" r="3.5" fill="#F6F6F6"/>
<circle cx="226.3" cy="414.45" r="3.5" fill="#EFF2F3"/>
<circle cx="240" cy="414.45" r="3.5" fill="#F6F6F6"/>
<circle cx="253.7" cy="414.45" r="3.5" fill="#EEF2F3"/>
<circle cx="171.5" cy="435.35" r="4.25" fill="#F6F6F6"/>
<circle cx="185.2" cy="435.35" r="4.25" fill="#E7F0F3"/>
<circle cx="198.9" cy="435.35" r="4.25" fill="#F6F6F6"/>
<circle cx="212.6" cy="435.35" r="4.25" fill="#F6F6F6"/>
<circle cx="226.3" cy="435.35" r="4.25" fill="#F6F6F6"/>
<circle cx="240" cy="435.35" r="4.25" fill="#F6F6F6"/>
<circle cx="253.7" cy="435.35" r="4.5" fill="#E4EEF3"/>
<circle cx="171.5" cy="456.25" r="4.25" fill="#F6F6F6"/>
<circle cx="185.2" cy="456.25" r="4.25" fill="#E9F0F3"/>
<circle cx="198.9" cy="456.25" r="4.25" fill="#F6F6F6"/>
<circle cx="212.6" cy="456.25" r="4.25" fill="#F6F6F6"/>
<circle cx="226.3" cy="456.25" r="4.25" fill="#F6F6F6"/>
<circle cx="240" cy="456.25" r="4.25" fill="#F6F6F6"/>
<circle cx="253.7" cy="456.25" r="4.25" fill="#F6F6F6"/>
<circle cx="171.5" cy="477.15" r="0.75" fill="#7F7F7F"/>
<circle cx="185.2" cy="477.15" r="0.75" fill="#7F7F7F"/>
<circle cx="198.9" cy="477.15" r="0.75" fill="#7F7F7F"/>
<circle cx="212.6" cy="477.15" r="0.75" fill="#7F7F7F"/>
<circle cx="226.3" cy="477.15" r="0.75" fill="#7F7F7F"/>
<circle cx="240" cy="477.15" r="0.75" fill="#7F7F7F"/>
<circle cx="253.7" cy="477.15" r="0.75" fill="#7F7F7F"/>
<circle cx="171.5" cy="498.05" r="5.25" fill="#F6F6F6"/>
<circle cx="185.2" cy="498.05" r="5.25" fill="#F6F6F6"/>
<circle cx="198.9" cy="498.05" r="5.25" fill="#F6F6F6"/>
<circle cx="212.6" cy="498.05" r="5.25" fill="#F6F6F6"/>
<circle cx="226.3" cy="498.05" r="5.25" fill="#F6F6F6"/>
<circle cx="240" cy="498.05" r="5.25" fill="#F6F6F6"/>
<circle cx="253.7" cy="498.05" r="5.25" fill="#F6F6F6"/>
<circle cx="171.5" cy="518.95" r="0.75" fill="#7F7F7F"/>
<circle cx="185.2" cy="518.95" r="0.75" fill="#7F7F7F"/>
<circle cx="198.9" cy="518.95" r="1.5" fill="#7F7F7F"/>
<circle cx="212.6" cy="518.95" r="0.75" fill="#7F7F7F"/>
<circle cx="226.3" cy="518.95" r="0.75" fill="#7F7F7F"/>
<circle cx="240" cy="518.95" r="0.75" fill="#7F7F7F"/>
<circle cx="253.7" cy="518.95" r="0.75" fill="#7F7F7F"/>
<circle cx="171.5" cy="539.85" r="3.5" fill="#F6F6F6"/>
<circle cx="185.2" cy="539.85" r="3.75" fill="#E5EFF3"/>
<circle cx="198.9" cy="539.85" r="3.5" fill="#F6F6F6"/>
<circle cx="212.6" cy="539.85" r="3.5" fill="#F6F6F6"/>
<circle cx="226.3" cy="539.85" r="3.5" fill="#F6F6F6"/>
<circle cx="240" cy="539.85" r="3.5" fill="#F6F6F6"/>
<circle cx="253.7" cy="539.85" r="3.75" fill="#E1EDF3"/>
<rect x="163.5" y="297.9" width="98.2" height="254.2" fill="none" stroke="#555555" stroke-width="1.07"/>
<text x="212.6" y="291.3" font-size="10.5" font-weight="bold" fill="#1A1A1A" text-anchor="middle">South Korea</text>
</g>
<g>
<path d="M276.95 297.9V552.1M290.65 297.9V552.1M304.35 297.9V552.1M318.05 297.9V552.1M331.75 297.9V552.1M345.45 297.9V552.1M359.15 297.9V552.1M268.95 309.95H367.15M268.95 330.85H367.15M268.95 351.75H367.15M268.95 372.65H367.15M268.95 393.55H367.15M268.95 414.45H367.15M268.95 435.35H367.15M268.95 456.25H367.15M268.95 477.15H367.15M268.95 498.05H367.15M268.95 518.95H367.15M268.95 539.85H367.15" stroke="#EBEBEB" stroke-width="1.07" fill="none"/>
<circle cx="276.95" cy="309.95" r="3.25" fill="#F6F6F6"/>
<circle cx="290.65" cy="309.95" r="3.5" fill="#D5E7F0"/>
<circle cx="304.35" cy="309.95" r="3.25" fill="#EEF1F4"/>
<circle cx="318.05" cy="309.95" r="3.25" fill="#F6F6F6"/>
<circle cx="331.75" cy="309.95" r="3.25" fill="#F3E2D4"/>
<circle cx="345.45" cy="309.95" r="3.5" fill="#B8DAE8"/>
<circle cx="359.15" cy="309.95" r="3.25" fill="#F4E5D9"/>
<circle cx="276.95" cy="330.85" r="3.75" fill="#F6F6F6"/>
<circle cx="290.65" cy="330.85" r="4.5" fill="#A3CFE2"/>
<circle cx="304.35" cy="330.85" r="4" fill="#F4EFEC"/>
<circle cx="318.05" cy="330.85" r="4" fill="#F4F0ED"/>
<circle cx="331.75" cy="330.85" r="4" fill="#D8E9F1"/>
<circle cx="345.45" cy="330.85" r="4.25" fill="#CDE5EF"/>
<circle cx="359.15" cy="330.85" r="4" fill="#E1EDF3"/>
<circle cx="276.95" cy="351.75" r="4" fill="#F6F6F6"/>
<circle cx="290.65" cy="351.75" r="4.25" fill="#E0EDF2"/>
<circle cx="304.35" cy="351.75" r="4" fill="#F6F6F6"/>
<circle cx="318.05" cy="351.75" r="4" fill="#ECF1F4"/>
<circle cx="331.75" cy="351.75" r="4" fill="#EBF1F3"/>
<circle cx="345.45" cy="351.75" r="4" fill="#F4F1EF"/>
<circle cx="359.15" cy="351.75" r="4" fill="#EBF1F4"/>
<circle cx="276.95" cy="372.65" r="3.5" fill="#F6F6F6"/>
<circle cx="290.65" cy="372.65" r="3.75" fill="#D2E7F0"/>
<circle cx="304.35" cy="372.65" r="3.5" fill="#F4F2F0"/>
<circle cx="318.05" cy="372.65" r="3.5" fill="#F4EAE3"/>
<circle cx="331.75" cy="372.65" r="3.5" fill="#EEF2F3"/>
<circle cx="345.45" cy="372.65" r="3.75" fill="#C5E1EC"/>
<circle cx="359.15" cy="372.65" r="3.5" fill="#EFF2F4"/>
<circle cx="276.95" cy="393.55" r="4.25" fill="#F6F6F6"/>
<circle cx="290.65" cy="393.55" r="4.25" fill="#F6F6F6"/>
<circle cx="304.35" cy="393.55" r="4.25" fill="#F6F6F6"/>
<circle cx="318.05" cy="393.55" r="4.25" fill="#F6F6F6"/>
<circle cx="331.75" cy="393.55" r="4.25" fill="#F6F6F6"/>
<circle cx="345.45" cy="393.55" r="4.25" fill="#F6F6F6"/>
<circle cx="359.15" cy="393.55" r="4.25" fill="#F6F6F6"/>
<circle cx="276.95" cy="414.45" r="4" fill="#F6F6F6"/>
<circle cx="290.65" cy="414.45" r="4" fill="#ECF1F4"/>
<circle cx="304.35" cy="414.45" r="4" fill="#F6F6F6"/>
<circle cx="318.05" cy="414.45" r="4" fill="#F6F6F6"/>
<circle cx="331.75" cy="414.45" r="4" fill="#F6F6F6"/>
<circle cx="345.45" cy="414.45" r="4" fill="#F6F6F6"/>
<circle cx="359.15" cy="414.45" r="4" fill="#F6F6F6"/>
<circle cx="276.95" cy="435.35" r="3.25" fill="#F6F6F6"/>
<circle cx="290.65" cy="435.35" r="3.25" fill="#F6F6F6"/>
<circle cx="304.35" cy="435.35" r="3.25" fill="#F6F6F6"/>
<circle cx="318.05" cy="435.35" r="3.25" fill="#F6F6F6"/>
<circle cx="331.75" cy="435.35" r="3.25" fill="#F6F6F6"/>
<circle cx="345.45" cy="435.35" r="3.25" fill="#F6F6F6"/>
<circle cx="359.15" cy="435.35" r="3.25" fill="#F6F6F6"/>
<circle cx="276.95" cy="456.25" r="4.5" fill="#F6F6F6"/>
<circle cx="290.65" cy="456.25" r="4.5" fill="#F6F6F6"/>
<circle cx="304.35" cy="456.25" r="4.5" fill="#F6F6F6"/>
<circle cx="318.05" cy="456.25" r="4.5" fill="#F6F6F6"/>
<circle cx="331.75" cy="456.25" r="4.5" fill="#F6F6F6"/>
<circle cx="345.45" cy="456.25" r="4.5" fill="#F6F6F6"/>
<circle cx="359.15" cy="456.25" r="4.5" fill="#F6F6F6"/>
<circle cx="276.95" cy="477.15" r="4.5" fill="#F6F6F6"/>
<circle cx="290.65" cy="477.15" r="4.5" fill="#EEF2F4"/>
<circle cx="304.35" cy="477.15" r="4.5" fill="#F6F6F6"/>
<circle cx="318.05" cy="477.15" r="4.5" fill="#F6F6F6"/>
<circle cx="331.75" cy="477.15" r="4.5" fill="#F6F6F6"/>
<circle cx="345.45" cy="477.15" r="4.5" fill="#F6F6F6"/>
<circle cx="359.15" cy="477.15" r="4.5" fill="#F6F6F6"/>
<circle cx="276.95" cy="498.05" r="3.25" fill="#F6F6F6"/>
<circle cx="290.65" cy="498.05" r="4.25" fill="#173A6C"/>
<circle cx="304.35" cy="498.05" r="3.75" fill="#7FB9D9"/>
<circle cx="318.05" cy="498.05" r="3.25" fill="#F6F6F6"/>
<circle cx="331.75" cy="498.05" r="3.25" fill="#F4EFEB"/>
<circle cx="345.45" cy="498.05" r="3.25" fill="#E6EFF3"/>
<circle cx="359.15" cy="498.05" r="3.75" fill="#A2CEE2"/>
<circle cx="276.95" cy="518.95" r="2.5" fill="#F6F6F6"/>
<circle cx="290.65" cy="518.95" r="2.5" fill="#F4EEEA"/>
<circle cx="304.35" cy="518.95" r="3.25" fill="#A4CFE3"/>
<circle cx="318.05" cy="518.95" r="2.75" fill="#F4EEEA"/>
<circle cx="331.75" cy="518.95" r="2.75" fill="#F2C7AE"/>
<circle cx="345.45" cy="518.95" r="3" fill="#D8E9F1"/>
<circle cx="359.15" cy="518.95" r="2.5" fill="#E8977A"/>
<circle cx="276.95" cy="539.85" r="0.75" fill="#F6F6F6"/>
<circle cx="290.65" cy="539.85" r="0.75" fill="#F6F6F6"/>
<circle cx="304.35" cy="539.85" r="0.75" fill="#F6F6F6"/>
<circle cx="318.05" cy="539.85" r="0.75" fill="#F6F6F6"/>
<circle cx="331.75" cy="539.85" r="0.75" fill="#F6F6F6"/>
<circle cx="345.45" cy="539.85" r="0.75" fill="#F6F6F6"/>
<circle cx="359.15" cy="539.85" r="0.75" fill="#F6F6F6"/>
<rect x="268.95" y="297.9" width="98.2" height="254.2" fill="none" stroke="#555555" stroke-width="1.07"/>
<text x="318.05" y="291.3" font-size="10.5" font-weight="bold" fill="#1A1A1A" text-anchor="middle">Central Asia</text>
</g>
<g>
<path d="M382.4 297.9V552.1M396.1 297.9V552.1M409.8 297.9V552.1M423.5 297.9V552.1M437.2 297.9V552.1M450.9 297.9V552.1M464.6 297.9V552.1M374.4 309.95H472.6M374.4 330.85H472.6M374.4 351.75H472.6M374.4 372.65H472.6M374.4 393.55H472.6M374.4 414.45H472.6M374.4 435.35H472.6M374.4 456.25H472.6M374.4 477.15H472.6M374.4 498.05H472.6M374.4 518.95H472.6M374.4 539.85H472.6" stroke="#EBEBEB" stroke-width="1.07" fill="none"/>
<circle cx="382.4" cy="309.95" r="1" fill="#F6F6F6"/>
<circle cx="396.1" cy="309.95" r="3" fill="#17386A"/>
<circle cx="409.8" cy="309.95" r="2" fill="#B4D8E7"/>
<circle cx="423.5" cy="309.95" r="1.5" fill="#F4E5D9"/>
<circle cx="437.2" cy="309.95" r="0.75" fill="#A2222E"/>
<circle cx="450.9" cy="309.95" r="3.25" fill="#143668"/>
<circle cx="464.6" cy="309.95" r="1" fill="#A5202D"/>
<circle cx="382.4" cy="330.85" r="3.25" fill="#F6F6F6"/>
<circle cx="396.1" cy="330.85" r="4" fill="#6AA9CF"/>
<circle cx="409.8" cy="330.85" r="3.25" fill="#F4EFEC"/>
<circle cx="423.5" cy="330.85" r="3.25" fill="#F4EDE8"/>
<circle cx="437.2" cy="330.85" r="3.5" fill="#C8E2ED"/>
<circle cx="450.9" cy="330.85" r="3.5" fill="#C3E0EC"/>
<circle cx="464.6" cy="330.85" r="3.5" fill="#D0E6F0"/>
<circle cx="382.4" cy="351.75" r="4.5" fill="#F6F6F6"/>
<circle cx="396.1" cy="351.75" r="4.5" fill="#E6EFF3"/>
<circle cx="409.8" cy="351.75" r="4.5" fill="#F6F6F6"/>
<circle cx="423.5" cy="351.75" r="4.5" fill="#F6F6F6"/>
<circle cx="437.2" cy="351.75" r="4.5" fill="#EBF1F3"/>
<circle cx="450.9" cy="351.75" r="4.5" fill="#F6F6F6"/>
<circle cx="464.6" cy="351.75" r="4.5" fill="#EDF1F4"/>
<circle cx="382.4" cy="372.65" r="3.5" fill="#F6F6F6"/>
<circle cx="396.1" cy="372.65" r="4.25" fill="#B3D8E7"/>
<circle cx="409.8" cy="372.65" r="3.5" fill="#F4F2F0"/>
<circle cx="423.5" cy="372.65" r="3.75" fill="#F4EBE4"/>
<circle cx="437.2" cy="372.65" r="3.75" fill="#E0EDF2"/>
<circle cx="450.9" cy="372.65" r="4" fill="#CCE4EF"/>
<circle cx="464.6" cy="372.65" r="3.75" fill="#EBF1F3"/>
<circle cx="382.4" cy="393.55" r="3" fill="#F6F6F6"/>
<circle cx="396.1" cy="393.55" r="3" fill="#F6F6F6"/>
<circle cx="409.8" cy="393.55" r="3" fill="#F6F6F6"/>
<circle cx="423.5" cy="393.55" r="3" fill="#F6F6F6"/>
<circle cx="437.2" cy="393.55" r="3" fill="#F6F6F6"/>
<circle cx="450.9" cy="393.55" r="3" fill="#F6F6F6"/>
<circle cx="464.6" cy="393.55" r="3" fill="#F6F6F6"/>
<circle cx="382.4" cy="414.45" r="3.5" fill="#F6F6F6"/>
<circle cx="396.1" cy="414.45" r="3.75" fill="#E5EFF3"/>
<circle cx="409.8" cy="414.45" r="3.5" fill="#F6F6F6"/>
<circle cx="423.5" cy="414.45" r="3.5" fill="#F4F1EF"/>
<circle cx="437.2" cy="414.45" r="3.5" fill="#EDF2F4"/>
<circle cx="450.9" cy="414.45" r="3.5" fill="#F6F6F6"/>
<circle cx="464.6" cy="414.45" r="3.5" fill="#EFF2F4"/>
<circle cx="382.4" cy="435.35" r="3.75" fill="#F6F6F6"/>
<circle cx="396.1" cy="435.35" r="3.75" fill="#F6F6F6"/>
<circle cx="409.8" cy="435.35" r="3.75" fill="#F6F6F6"/>
<circle cx="423.5" cy="435.35" r="3.75" fill="#F6F6F6"/>
<circle cx="437.2" cy="435.35" r="3.75" fill="#F6F6F6"/>
<circle cx="450.9" cy="435.35" r="3.75" fill="#F6F6F6"/>
<circle cx="464.6" cy="435.35" r="3.75" fill="#F6F6F6"/>
<circle cx="382.4" cy="456.25" r="4.75" fill="#F6F6F6"/>
<circle cx="396.1" cy="456.25" r="4.75" fill="#F6F6F6"/>
<circle cx="409.8" cy="456.25" r="4.75" fill="#F6F6F6"/>
<circle cx="423.5" cy="456.25" r="4.75" fill="#F6F6F6"/>
<circle cx="437.2" cy="456.25" r="4.75" fill="#F6F6F6"/>
<circle cx="450.9" cy="456.25" r="4.75" fill="#F6F6F6"/>
<circle cx="464.6" cy="456.25" r="4.75" fill="#F6F6F6"/>
<circle cx="382.4" cy="477.15" r="3.5" fill="#F6F6F6"/>
<circle cx="396.1" cy="477.15" r="3.5" fill="#EEF1F4"/>
<circle cx="409.8" cy="477.15" r="3.5" fill="#F4F2F0"/>
<circle cx="423.5" cy="477.15" r="3.5" fill="#F6F6F6"/>
<circle cx="437.2" cy="477.15" r="3.5" fill="#F4EBE4"/>
<circle cx="450.9" cy="477.15" r="3.75" fill="#DFECF2"/>
<circle cx="464.6" cy="477.15" r="3.5" fill="#F4EDE7"/>
<circle cx="382.4" cy="498.05" r="0.75" fill="#7F7F7F"/>
<circle cx="396.1" cy="498.05" r="0.75" fill="#7F7F7F"/>
<circle cx="409.8" cy="498.05" r="0.75" fill="#7F7F7F"/>
<circle cx="423.5" cy="498.05" r="0.75" fill="#7F7F7F"/>
<circle cx="437.2" cy="498.05" r="0.75" fill="#7F7F7F"/>
<circle cx="450.9" cy="498.05" r="0.75" fill="#7F7F7F"/>
<circle cx="464.6" cy="498.05" r="0.75" fill="#7F7F7F"/>
<circle cx="382.4" cy="518.95" r="2.25" fill="#F6F6F6"/>
<circle cx="396.1" cy="518.95" r="3" fill="#C2E0EB"/>
<circle cx="409.8" cy="518.95" r="3.5" fill="#4A8BC0"/>
<circle cx="423.5" cy="518.95" r="2.5" fill="#F4ECE6"/>
<circle cx="437.2" cy="518.95" r="2.5" fill="#EFBDA2"/>
<circle cx="450.9" cy="518.95" r="2.5" fill="#DFECF2"/>
<circle cx="464.6" cy="518.95" r="2.5" fill="#F2C4AA"/>
<circle cx="382.4" cy="539.85" r="0.75" fill="#F6F6F6"/>
<circle cx="396.1" cy="539.85" r="0.75" fill="#F6F6F6"/>
<circle cx="409.8" cy="539.85" r="0.75" fill="#D0E6F0"/>
<circle cx="423.5" cy="539.85" r="0.75" fill="#EFBDA2"/>
<circle cx="437.2" cy="539.85" r="0.75" fill="#D0E6F0"/>
<circle cx="450.9" cy="539.85" r="0.75" fill="#F6F6F6"/>
<circle cx="464.6" cy="539.85" r="0.75" fill="#E8977A"/>
<rect x="374.4" y="297.9" width="98.2" height="254.2" fill="none" stroke="#555555" stroke-width="1.07"/>
<text x="423.5" y="291.3" font-size="10.5" font-weight="bold" fill="#1A1A1A" text-anchor="middle">Middle East</text>
</g>
<g>
<path d="M487.85 297.9V552.1M501.55 297.9V552.1M515.25 297.9V552.1M528.95 297.9V552.1M542.65 297.9V552.1M556.35 297.9V552.1M570.05 297.9V552.1M479.85 309.95H578.05M479.85 330.85H578.05M479.85 351.75H578.05M479.85 372.65H578.05M479.85 393.55H578.05M479.85 414.45H578.05M479.85 435.35H578.05M479.85 456.25H578.05M479.85 477.15H578.05M479.85 498.05H578.05M479.85 518.95H578.05M479.85 539.85H578.05" stroke="#EBEBEB" stroke-width="1.07" fill="none"/>
<circle cx="487.85" cy="309.95" r="3" fill="#F6F6F6"/>
<circle cx="501.55" cy="309.95" r="4.75" fill="#133467"/>
<circle cx="515.25" cy="309.95" r="3.5" fill="#DDEDF0"/>
<circle cx="528.95" cy="309.95" r="3" fill="#F6F6F6"/>
<circle cx="542.65" cy="309.95" r="3.25" fill="#F0CDB5"/>
<circle cx="556.35" cy="309.95" r="4.75" fill="#133467"/>
<circle cx="570.05" cy="309.95" r="3.25" fill="#F4E2D3"/>
<circle cx="487.85" cy="330.85" r="4.75" fill="#F6F6F6"/>
<circle cx="501.55" cy="330.85" r="5" fill="#DDEBF2"/>
<circle cx="515.25" cy="330.85" r="5" fill="#F4EEEA"/>
<circle cx="528.95" cy="330.85" r="4.75" fill="#F6F6F6"/>
<circle cx="542.65" cy="330.85" r="5" fill="#DCEBF1"/>
<circle cx="556.35" cy="330.85" r="5" fill="#DFECF2"/>
<circle cx="570.05" cy="330.85" r="5" fill="#DDEBF2"/>
<circle cx="487.85" cy="351.75" r="4.25" fill="#F6F6F6"/>
<circle cx="501.55" cy="351.75" r="4.5" fill="#E6EFF3"/>
<circle cx="515.25" cy="351.75" r="4.25" fill="#F6F6F6"/>
<circle cx="528.95" cy="351.75" r="4.5" fill="#EAEEF4"/>
<circle cx="542.65" cy="351.75" r="4.25" fill="#ECF1F4"/>
<circle cx="556.35" cy="351.75" r="4.25" fill="#F4F2F0"/>
<circle cx="570.05" cy="351.75" r="4.25" fill="#F6F6F6"/>
<circle cx="487.85" cy="372.65" r="2.5" fill="#F6F6F6"/>
<circle cx="501.55" cy="372.65" r="2.75" fill="#C9E3EE"/>
<circle cx="515.25" cy="372.65" r="2.5" fill="#F4EFEB"/>
<circle cx="528.95" cy="372.65" r="2.5" fill="#F4E0D1"/>
<circle cx="542.65" cy="372.65" r="2.5" fill="#E4EEF3"/>
<circle cx="556.35" cy="372.65" r="2.75" fill="#B4D8E7"/>
<circle cx="570.05" cy="372.65" r="2.5" fill="#EFF2F4"/>
<circle cx="487.85" cy="393.55" r="4.5" fill="#F6F6F6"/>
<circle cx="501.55" cy="393.55" r="4.75" fill="#E4EEF3"/>
<circle cx="515.25" cy="393.55" r="4.5" fill="#F4EEEA"/>
<circle cx="528.95" cy="393.55" r="4.5" fill="#E7F0F3"/>
<circle cx="542.65" cy="393.55" r="4.5" fill="#E4EEF3"/>
<circle cx="556.35" cy="393.55" r="4.5" fill="#F6F6F6"/>
<circle cx="570.05" cy="393.55" r="4.5" fill="#EAF0F3"/>
<circle cx="487.85" cy="414.45" r="3.5" fill="#F6F6F6"/>
<circle cx="501.55" cy="414.45" r="3.75" fill="#E1EDF3"/>
<circle cx="515.25" cy="414.45" r="3.5" fill="#F6F6F6"/>
<circle cx="528.95" cy="414.45" r="3.5" fill="#EFF2F3"/>
<circle cx="542.65" cy="414.45" r="3.5" fill="#EAF0F3"/>
<circle cx="556.35" cy="414.45" r="3.5" fill="#F6F6F6"/>
<circle cx="570.05" cy="414.45" r="3.5" fill="#EDF1F4"/>
<circle cx="487.85" cy="435.35" r="3.75" fill="#F6F6F6"/>
<circle cx="501.55" cy="435.35" r="4" fill="#D6E8F0"/>
<circle cx="515.25" cy="435.35" r="3.75" fill="#F4EFEA"/>
<circle cx="528.95" cy="435.35" r="4" fill="#DAEAF1"/>
<circle cx="542.65" cy="435.35" r="4" fill="#DAEAF1"/>
<circle cx="556.35" cy="435.35" r="3.75" fill="#E8F0F4"/>
<circle cx="570.05" cy="435.35" r="4" fill="#D9E9F1"/>
<circle cx="487.85" cy="456.25" r="3.75" fill="#F6F6F6"/>
<circle cx="501.55" cy="456.25" r="4" fill="#DAEAF1"/>
<circle cx="515.25" cy="456.25" r="3.75" fill="#F6F6F6"/>
<circle cx="528.95" cy="456.25" r="3.75" fill="#EBF1F3"/>
<circle cx="542.65" cy="456.25" r="3.75" fill="#E6EFF3"/>
<circle cx="556.35" cy="456.25" r="3.75" fill="#F6F6F6"/>
<circle cx="570.05" cy="456.25" r="3.75" fill="#E4EEF3"/>
<circle cx="487.85" cy="477.15" r="3" fill="#F6F6F6"/>
<circle cx="501.55" cy="477.15" r="3.5" fill="#A7D2E4"/>
<circle cx="515.25" cy="477.15" r="3.25" fill="#D8E9F1"/>
<circle cx="528.95" cy="477.15" r="3.25" fill="#DDEBF2"/>
<circle cx="542.65" cy="477.15" r="3" fill="#F4F0EC"/>
<circle cx="556.35" cy="477.15" r="3.25" fill="#DCEAF1"/>
<circle cx="570.05" cy="477.15" r="3" fill="#F6F6F6"/>
<circle cx="487.85" cy="498.05" r="4.5" fill="#F6F6F6"/>
<circle cx="501.55" cy="498.05" r="4.75" fill="#F4EAE2"/>
<circle cx="515.25" cy="498.05" r="4.5" fill="#EFF2F4"/>
<circle cx="528.95" cy="498.05" r="4.5" fill="#F6F6F6"/>
<circle cx="542.65" cy="498.05" r="4.5" fill="#F4F1EE"/>
<circle cx="556.35" cy="498.05" r="4.75" fill="#F4EAE3"/>
<circle cx="570.05" cy="498.05" r="4.5" fill="#F6F6F6"/>
<circle cx="487.85" cy="518.95" r="4" fill="#F6F6F6"/>
<circle cx="501.55" cy="518.95" r="4.75" fill="#ACD4E6"/>
<circle cx="515.25" cy="518.95" r="4.75" fill="#AAD3E5"/>
<circle cx="528.95" cy="518.95" r="4" fill="#F6F6F6"/>
<circle cx="542.65" cy="518.95" r="4" fill="#F4EDE8"/>
<circle cx="556.35" cy="518.95" r="4" fill="#EFF2F4"/>
<circle cx="570.05" cy="518.95" r="4" fill="#F4EDE8"/>
<circle cx="487.85" cy="539.85" r="2.5" fill="#F6F6F6"/>
<circle cx="501.55" cy="539.85" r="2.5" fill="#E9F0F4"/>
<circle cx="515.25" cy="539.85" r="2.5" fill="#F6F6F6"/>
<circle cx="528.95" cy="539.85" r="2.5" fill="#F6F6F6"/>
<circle cx="542.65" cy="539.85" r="2.5" fill="#F6F6F6"/>
<circle cx="556.35" cy="539.85" r="2.5" fill="#F6F6F6"/>
<circle cx="570.05" cy="539.85" r="2.5" fill="#F6F6F6"/>
<rect x="479.85" y="297.9" width="98.2" height="254.2" fill="none" stroke="#555555" stroke-width="1.07"/>
<text x="528.95" y="291.3" font-size="10.5" font-weight="bold" fill="#1A1A1A" text-anchor="middle">South Asia</text>
</g>
<g>
<path d="M593.3 297.9V552.1M607 297.9V552.1M620.7 297.9V552.1M634.4 297.9V552.1M648.1 297.9V552.1M661.8 297.9V552.1M675.5 297.9V552.1M585.3 309.95H683.5M585.3 330.85H683.5M585.3 351.75H683.5M585.3 372.65H683.5M585.3 393.55H683.5M585.3 414.45H683.5M585.3 435.35H683.5M585.3 456.25H683.5M585.3 477.15H683.5M585.3 498.05H683.5M585.3 518.95H683.5M585.3 539.85H683.5" stroke="#EBEBEB" stroke-width="1.07" fill="none"/>
<circle cx="593.3" cy="309.95" r="3" fill="#F6F6F6"/>
<circle cx="607" cy="309.95" r="4" fill="#1E4D8E"/>
<circle cx="620.7" cy="309.95" r="3" fill="#ECEFF4"/>
<circle cx="634.4" cy="309.95" r="3" fill="#F6F6F6"/>
<circle cx="648.1" cy="309.95" r="3" fill="#F0C9AF"/>
<circle cx="661.8" cy="309.95" r="4" fill="#1C4C8C"/>
<circle cx="675.5" cy="309.95" r="3" fill="#F4E6DB"/>
<circle cx="593.3" cy="330.85" r="3.25" fill="#F6F6F6"/>
<circle cx="607" cy="330.85" r="4.5" fill="#70ADD1"/>
<circle cx="620.7" cy="330.85" r="3.5" fill="#F4EFEC"/>
<circle cx="634.4" cy="330.85" r="3.5" fill="#F4F2F0"/>
<circle cx="648.1" cy="330.85" r="3.75" fill="#D3E7F0"/>
<circle cx="661.8" cy="330.85" r="4" fill="#B3D8E7"/>
<circle cx="675.5" cy="330.85" r="3.5" fill="#E2EEF3"/>
<circle cx="593.3" cy="351.75" r="4.5" fill="#F6F6F6"/>
<circle cx="607" cy="351.75" r="4.5" fill="#E8F0F4"/>
<circle cx="620.7" cy="351.75" r="4.5" fill="#F6F6F6"/>
<circle cx="634.4" cy="351.75" r="4.5" fill="#EEF1F4"/>
<circle cx="648.1" cy="351.75" r="4.5" fill="#EEF1F4"/>
<circle cx="661.8" cy="351.75" r="4.5" fill="#F6F6F6"/>
<circle cx="675.5" cy="351.75" r="4.5" fill="#F6F6F6"/>
<circle cx="593.3" cy="372.65" r="2.5" fill="#F6F6F6"/>
<circle cx="607" cy="372.65" r="3.5" fill="#ACD5E5"/>
<circle cx="620.7" cy="372.65" r="2.5" fill="#F6F6F6"/>
<circle cx="634.4" cy="372.65" r="3" fill="#F4EAE2"/>
<circle cx="648.1" cy="372.65" r="3" fill="#E3EEF3"/>
<circle cx="661.8" cy="372.65" r="3.5" fill="#A7D2E4"/>
<circle cx="675.5" cy="372.65" r="3" fill="#EDF1F4"/>
<circle cx="593.3" cy="393.55" r="4.5" fill="#F6F6F6"/>
<circle cx="607" cy="393.55" r="4.5" fill="#F6F6F6"/>
<circle cx="620.7" cy="393.55" r="4.5" fill="#F6F6F6"/>
<circle cx="634.4" cy="393.55" r="4.5" fill="#F6F6F6"/>
<circle cx="648.1" cy="393.55" r="4.5" fill="#F6F6F6"/>
<circle cx="661.8" cy="393.55" r="4.5" fill="#F6F6F6"/>
<circle cx="675.5" cy="393.55" r="4.5" fill="#F6F6F6"/>
<circle cx="593.3" cy="414.45" r="4.5" fill="#F6F6F6"/>
<circle cx="607" cy="414.45" r="4.5" fill="#EAF0F4"/>
<circle cx="620.7" cy="414.45" r="4.5" fill="#F6F6F6"/>
<circle cx="634.4" cy="414.45" r="4.5" fill="#F6F6F6"/>
<circle cx="648.1" cy="414.45" r="4.5" fill="#F6F6F6"/>
<circle cx="661.8" cy="414.45" r="4.5" fill="#F6F6F6"/>
<circle cx="675.5" cy="414.45" r="4.5" fill="#F6F6F6"/>
<circle cx="593.3" cy="435.35" r="4" fill="#F6F6F6"/>
<circle cx="607" cy="435.35" r="4" fill="#EEF1F4"/>
<circle cx="620.7" cy="435.35" r="4" fill="#F6F6F6"/>
<circle cx="634.4" cy="435.35" r="4" fill="#F6F6F6"/>
<circle cx="648.1" cy="435.35" r="4" fill="#F6F6F6"/>
<circle cx="661.8" cy="435.35" r="4" fill="#F6F6F6"/>
<circle cx="675.5" cy="435.35" r="4" fill="#F6F6F6"/>
<circle cx="593.3" cy="456.25" r="4.25" fill="#F6F6F6"/>
<circle cx="607" cy="456.25" r="4.25" fill="#EEF1F4"/>
<circle cx="620.7" cy="456.25" r="4.25" fill="#F6F6F6"/>
<circle cx="634.4" cy="456.25" r="4.25" fill="#F6F6F6"/>
<circle cx="648.1" cy="456.25" r="4.25" fill="#F6F6F6"/>
<circle cx="661.8" cy="456.25" r="4.25" fill="#F6F6F6"/>
<circle cx="675.5" cy="456.25" r="4.25" fill="#F6F6F6"/>
<circle cx="593.3" cy="477.15" r="3.75" fill="#F6F6F6"/>
<circle cx="607" cy="477.15" r="4" fill="#DAEAF1"/>
<circle cx="620.7" cy="477.15" r="3.75" fill="#F6F6F6"/>
<circle cx="634.4" cy="477.15" r="3.75" fill="#EEF1F4"/>
<circle cx="648.1" cy="477.15" r="3.75" fill="#F6F6F6"/>
<circle cx="661.8" cy="477.15" r="3.75" fill="#E9EFF3"/>
<circle cx="675.5" cy="477.15" r="3.75" fill="#EEF1F4"/>
<circle cx="593.3" cy="498.05" r="4.5" fill="#F6F6F6"/>
<circle cx="607" cy="498.05" r="4.5" fill="#F6F6F6"/>
<circle cx="620.7" cy="498.05" r="4.5" fill="#F4F1EF"/>
<circle cx="634.4" cy="498.05" r="4.5" fill="#F6F6F6"/>
<circle cx="648.1" cy="498.05" r="4.5" fill="#F6F6F6"/>
<circle cx="661.8" cy="498.05" r="4.5" fill="#F6F6F6"/>
<circle cx="675.5" cy="498.05" r="4.5" fill="#F6F6F6"/>
<circle cx="593.3" cy="518.95" r="3.5" fill="#F6F6F6"/>
<circle cx="607" cy="518.95" r="4" fill="#CFE5EF"/>
<circle cx="620.7" cy="518.95" r="4" fill="#CFE5EF"/>
<circle cx="634.4" cy="518.95" r="3.5" fill="#F6F6F6"/>
<circle cx="648.1" cy="518.95" r="3.5" fill="#F4EEE9"/>
<circle cx="661.8" cy="518.95" r="3.5" fill="#EEF1F4"/>
<circle cx="675.5" cy="518.95" r="3.5" fill="#F4F1EE"/>
<circle cx="593.3" cy="539.85" r="4" fill="#F6F6F6"/>
<circle cx="607" cy="539.85" r="4" fill="#F6F6F6"/>
<circle cx="620.7" cy="539.85" r="4" fill="#F6F6F6"/>
<circle cx="634.4" cy="539.85" r="4" fill="#F6F6F6"/>
<circle cx="648.1" cy="539.85" r="4" fill="#F6F6F6"/>
<circle cx="661.8" cy="539.85" r="4" fill="#F6F6F6"/>
<circle cx="675.5" cy="539.85" r="4" fill="#F6F6F6"/>
<rect x="585.3" y="297.9" width="98.2" height="254.2" fill="none" stroke="#555555" stroke-width="1.07"/>
<text x="634.4" y="291.3" font-size="10.5" font-weight="bold" fill="#1A1A1A" text-anchor="middle">Southeast Asia</text>
</g>
<text x="156.5" y="31.05" font-size="9.6" fill="#333333" class="t" text-anchor="end">electricity affordability</text>
<text x="156.5" y="51.95" font-size="9.6" fill="#333333" class="t" text-anchor="end">renewable energy share</text>
<text x="156.5" y="72.85" font-size="9.6" fill="#333333" class="t" text-anchor="end">energy efficiency</text>
<text x="156.5" y="93.75" font-size="9.6" fill="#333333" class="t" text-anchor="end">renewable power capacity per capita</text>
<text x="156.5" y="114.65" font-size="9.6" fill="#333333" class="t" text-anchor="end">air quality (PM2.5)</text>
<text x="156.5" y="135.55" font-size="9.6" fill="#333333" class="t" text-anchor="end">air quality (O3)</text>
<text x="156.5" y="156.45" font-size="9.6" fill="#333333" class="t" text-anchor="end">PM2.5-related mortality reduction</text>
<text x="156.5" y="177.35" font-size="9.6" fill="#333333" class="t" text-anchor="end">O3-related mortality reduction</text>
<text x="156.5" y="198.25" font-size="9.6" fill="#333333" class="t" text-anchor="end">water affordability</text>
<text x="156.5" y="219.15" font-size="9.6" fill="#333333" class="t" text-anchor="end">groundwater conservation</text>
<text x="156.5" y="240.05" font-size="9.6" fill="#333333" class="t" text-anchor="end">food affordability</text>
<text x="156.5" y="260.95" font-size="9.6" fill="#333333" class="t" text-anchor="end">forest cover</text>
<path d="M160.3 27.95H163.5M160.3 48.85H163.5M160.3 69.75H163.5M160.3 90.65H163.5M160.3 111.55H163.5M160.3 132.45H163.5M160.3 153.35H163.5M160.3 174.25H163.5M160.3 195.15H163.5M160.3 216.05H163.5M160.3 236.95H163.5M160.3 257.85H163.5" stroke="#555555" stroke-width="1.07"/>
<text x="156.5" y="313.05" font-size="9.6" fill="#333333" class="t" text-anchor="end">electricity affordability</text>
<text x="156.5" y="333.95" font-size="9.6" fill="#333333" class="t" text-anchor="end">renewable energy share</text>
<text x="156.5" y="354.85" font-size="9.6" fill="#333333" class="t" text-anchor="end">energy efficiency</text>
<text x="156.5" y="375.75" font-size="9.6" fill="#333333" class="t" text-anchor="end">renewable power capacity per capita</text>
<text x="156.5" y="396.65" font-size="9.6" fill="#333333" class="t" text-anchor="end">air quality (PM2.5)</text>
<text x="156.5" y="417.55" font-size="9.6" fill="#333333" class="t" text-anchor="end">air quality (O3)</text>
<text x="156.5" y="438.45" font-size="9.6" fill="#333333" class="t" text-anchor="end">PM2.5-related mortality reduction</text>
<text x="156.5" y="459.35" font-size="9.6" fill="#333333" class="t" text-anchor="end">O3-related mortality reduction</text>
<text x="156.5" y="480.25" font-size="9.6" fill="#333333" class="t" text-anchor="end">water affordability</text>
<text x="156.5" y="501.15" font-size="9.6" fill="#333333" class="t" text-anchor="end">groundwater conservation</text>
<text x="156.5" y="522.05" font-size="9.6" fill="#333333" class="t" text-anchor="end">food affordability</text>
<text x="156.5" y="542.95" font-size="9.6" fill="#333333" class="t" text-anchor="end">forest cover</text>
<path d="M160.3 309.95H163.5M160.3 330.85H163.5M160.3 351.75H163.5M160.3 372.65H163.5M160.3 393.55H163.5M160.3 414.45H163.5M160.3 435.35H163.5M160.3 456.25H163.5M160.3 477.15H163.5M160.3 498.05H163.5M160.3 518.95H163.5M160.3 539.85H163.5" stroke="#555555" stroke-width="1.07"/>
<text transform="translate(174.3 558.6) rotate(-90)" font-size="9.6" fill="#333333" class="t" text-anchor="end">FT</text>
<text transform="translate(188 558.6) rotate(-90)" font-size="9.6" fill="#333333" class="t" text-anchor="end">FT-SDG</text>
<text transform="translate(201.7 558.6) rotate(-90)" font-size="9.6" fill="#333333" class="t" text-anchor="end">FT-ImproveAD</text>
<text transform="translate(215.4 558.6) rotate(-90)" font-size="9.6" fill="#333333" class="t" text-anchor="end">FT-LowED</text>
<text transform="translate(229.1 558.6) rotate(-90)" font-size="9.6" fill="#333333" class="t" text-anchor="end">FT-LowFF</text>
<text transform="translate(242.8 558.6) rotate(-90)" font-size="9.6" fill="#333333" class="t" text-anchor="end">FT-HighRE</text>
<text transform="translate(256.5 558.6) rotate(-90)" font-size="9.6" fill="#333333" class="t" text-anchor="end">FT-LimitCDR</text>
<text transform="translate(279.75 558.6) rotate(-90)" font-size="9.6" fill="#333333" class="t" text-anchor="end">FT</text>
<text transform="translate(293.45 558.6) rotate(-90)" font-size="9.6" fill="#333333" class="t" text-anchor="end">FT-SDG</text>
<text transform="translate(307.15 558.6) rotate(-90)" font-size="9.6" fill="#333333" class="t" text-anchor="end">FT-ImproveAD</text>
<text transform="translate(320.85 558.6) rotate(-90)" font-size="9.6" fill="#333333" class="t" text-anchor="end">FT-LowED</text>
<text transform="translate(334.55 558.6) rotate(-90)" font-size="9.6" fill="#333333" class="t" text-anchor="end">FT-LowFF</text>
<text transform="translate(348.25 558.6) rotate(-90)" font-size="9.6" fill="#333333" class="t" text-anchor="end">FT-HighRE</text>
<text transform="translate(361.95 558.6) rotate(-90)" font-size="9.6" fill="#333333" class="t" text-anchor="end">FT-LimitCDR</text>
<text transform="translate(385.2 558.6) rotate(-90)" font-size="9.6" fill="#333333" class="t" text-anchor="end">FT</text>
<text transform="translate(398.9 558.6) rotate(-90)" font-size="9.6" fill="#333333" class="t" text-anchor="end">FT-SDG</text>
<text transform="translate(412.6 558.6) rotate(-90)" font-size="9.6" fill="#333333" class="t" text-anchor="end">FT-ImproveAD</text>
<text transform="translate(426.3 558.6) rotate(-90)" font-size="9.6" fill="#333333" class="t" text-anchor="end">FT-LowED</text>
<text transform="translate(440 558.6) rotate(-90)" font-size="9.6" fill="#333333" class="t" text-anchor="end">FT-LowFF</text>
<text transform="translate(453.7 558.6) rotate(-90)" font-size="9.6" fill="#333333" class="t" text-anchor="end">FT-HighRE</text>
<text transform="translate(467.4 558.6) rotate(-90)" font-size="9.6" fill="#333333" class="t" text-anchor="end">FT-LimitCDR</text>
<text transform="translate(490.65 558.6) rotate(-90)" font-size="9.6" fill="#333333" class="t" text-anchor="end">FT</text>
<text transform="translate(504.35 558.6) rotate(-90)" font-size="9.6" fill="#333333" class="t" text-anchor="end">FT-SDG</text>
<text transform="translate(518.05 558.6) rotate(-90)" font-size="9.6" fill="#333333" class="t" text-anchor="end">FT-ImproveAD</text>
<text transform="translate(531.75 558.6) rotate(-90)" font-size="9.6" fill="#333333" class="t" text-anchor="end">FT-LowED</text>
<text transform="translate(545.45 558.6) rotate(-90)" font-size="9.6" fill="#333333" class="t" text-anchor="end">FT-LowFF</text>
<text transform="translate(559.15 558.6) rotate(-90)" font-size="9.6" fill="#333333" class="t" text-anchor="end">FT-HighRE</text>
<text transform="translate(572.85 558.6) rotate(-90)" font-size="9.6" fill="#333333" class="t" text-anchor="end">FT-LimitCDR</text>
<text transform="translate(596.1 558.6) rotate(-90)" font-size="9.6" fill="#333333" class="t" text-anchor="end">FT</text>
<text transform="translate(609.8 558.6) rotate(-90)" font-size="9.6" fill="#333333" class="t" text-anchor="end">FT-SDG</text>
<text transform="translate(623.5 558.6) rotate(-90)" font-size="9.6" fill="#333333" class="t" text-anchor="end">FT-ImproveAD</text>
<text transform="translate(637.2 558.6) rotate(-90)" font-size="9.6" fill="#333333" class="t" text-anchor="end">FT-LowED</text>
<text transform="translate(650.9 558.6) rotate(-90)" font-size="9.6" fill="#333333" class="t" text-anchor="end">FT-LowFF</text>
<text transform="translate(664.6 558.6) rotate(-90)" font-size="9.6" fill="#333333" class="t" text-anchor="end">FT-HighRE</text>
<text transform="translate(678.3 558.6) rotate(-90)" font-size="9.6" fill="#333333" class="t" text-anchor="end">FT-LimitCDR</text>
<path d="M171.5 552.1V555M185.2 552.1V555M198.9 552.1V555M212.6 552.1V555M226.3 552.1V555M240 552.1V555M253.7 552.1V555M276.95 552.1V555M290.65 552.1V555M304.35 552.1V555M318.05 552.1V555M331.75 552.1V555M345.45 552.1V555M359.15 552.1V555M382.4 552.1V555M396.1 552.1V555M409.8 552.1V555M423.5 552.1V555M437.2 552.1V555M450.9 552.1V555M464.6 552.1V555M487.85 552.1V555M501.55 552.1V555M515.25 552.1V555M528.95 552.1V555M542.65 552.1V555M556.35 552.1V555M570.05 552.1V555M593.3 552.1V555M607 552.1V555M620.7 552.1V555M634.4 552.1V555M648.1 552.1V555M661.8 552.1V555M675.5 552.1V555" stroke="#555555" stroke-width="1.07"/>
<text x="193.5" y="654.5" font-size="10.6" font-weight="bold" fill="#000">percentage change</text>
<text x="193.5" y="666" font-size="10.6" font-weight="bold" fill="#000">compared to FT</text>
<defs><linearGradient id="rdbu" x1="0" x2="1" y1="0" y2="0"><stop offset="0" stop-color="#67001F"/><stop offset="0.1" stop-color="#B2182B"/><stop offset="0.2" stop-color="#D6604D"/><stop offset="0.3" stop-color="#F4A582"/><stop offset="0.4" stop-color="#FDDBC7"/><stop offset="0.5" stop-color="#F7F7F7"/><stop offset="0.6" stop-color="#D1E5F0"/><stop offset="0.7" stop-color="#92C5DE"/><stop offset="0.8" stop-color="#4393C3"/><stop offset="0.9" stop-color="#2166AC"/><stop offset="1" stop-color="#053061"/></linearGradient></defs>
<rect x="298.8" y="641" width="84.8" height="16.8" fill="url(#rdbu)"/>
<path d="M320 641V644.4M320 654.4V657.8M341.2 641V644.4M341.2 654.4V657.8M362.4 641V644.4M362.4 654.4V657.8" stroke="#fff" stroke-width="1"/>
<text x="298.8" y="669.5" font-size="6.8" fill="#333333" class="t" text-anchor="middle">-100%</text>
<text x="320" y="669.5" font-size="6.8" fill="#333333" class="t" text-anchor="middle">-50%</text>
<text x="341.2" y="669.5" font-size="6.8" fill="#333333" class="t" text-anchor="middle">0%</text>
<text x="362.4" y="669.5" font-size="6.8" fill="#333333" class="t" text-anchor="middle">50%</text>
<text x="383.6" y="669.5" font-size="6.8" fill="#333333" class="t" text-anchor="middle">100%</text>
<text x="410.7" y="653.3" font-size="10.7" font-weight="bold" fill="#000">sdg score</text>
<circle cx="477" cy="649.6" r="0.75" fill="#000"/>
<text x="494.3" y="652" font-size="6.8" fill="#333333" class="t" text-anchor="middle">0</text>
<circle cx="511.3" cy="649.6" r="3.25" fill="#000"/>
<text x="531" y="652" font-size="6.8" fill="#333333" class="t" text-anchor="middle">25</text>
<circle cx="550.3" cy="649.6" r="3.85" fill="#000"/>
<text x="569.5" y="652" font-size="6.8" fill="#333333" class="t" text-anchor="middle">50</text>
<circle cx="588.8" cy="649.6" r="4.8" fill="#000"/>
<text x="607.7" y="652" font-size="6.8" fill="#333333" class="t" text-anchor="middle">75</text>
<circle cx="627" cy="649.6" r="5.45" fill="#000"/>
<text x="648.4" y="652" font-size="6.8" fill="#333333" class="t" text-anchor="middle">100</text>
</svg></body></html>
